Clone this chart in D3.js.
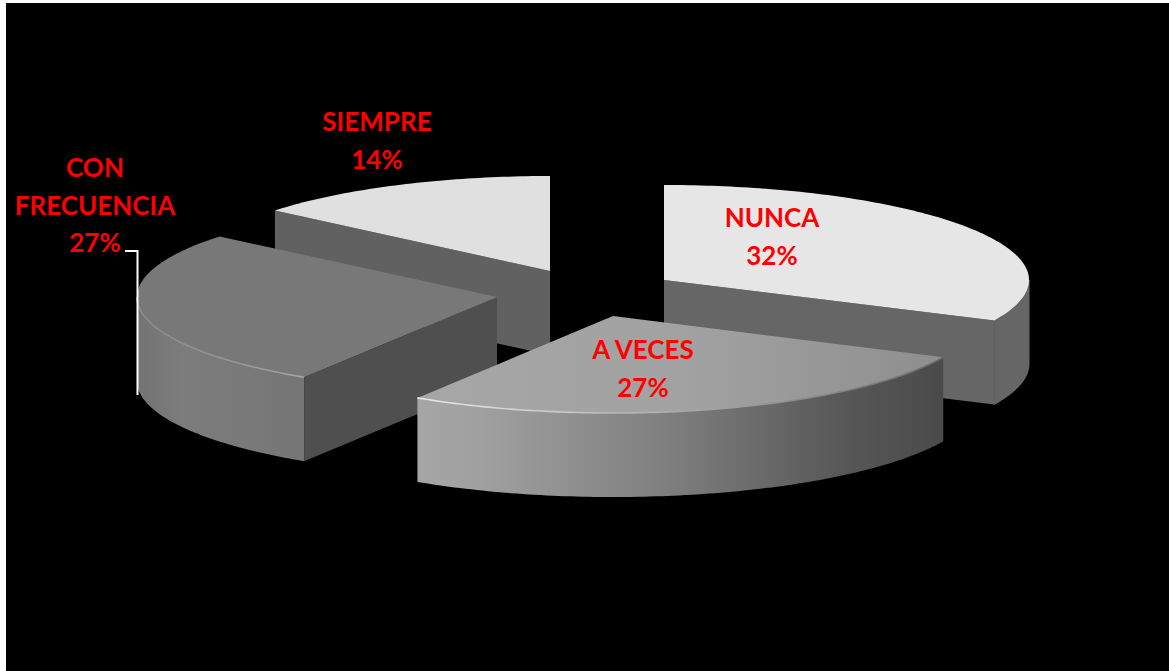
<!DOCTYPE html>
<html><head><meta charset="utf-8">
<script src="https://cdn.jsdelivr.net/npm/d3@7"></script>
<style>html,body{margin:0;padding:0;background:#fff;overflow:hidden}svg{display:block}</style>
</head><body><svg id="c" width="1169" height="671"></svg>
<script>
const categories = ["NUNCA", "A VECES", "CON FRECUENCIA", "SIEMPRE"];
const percents = [32, 27, 27, 14];
const labelLines = [["NUNCA"], ["A VECES"], ["CON", "FRECUENCIA"], ["SIEMPRE"]];

// Geometry of each exploded wedge (drawn pixel space), index-aligned with categories.
// cut: which radial cut of the wedge faces the viewer.
const geom = [
  {cx:664, cy:280, rx:365, ry:95, depth:84, cut:"end",   top:"#e6e6e6", wall:"#666666", face:"#666666", lx:772, ly:227},
  {cx:613, cy:316, rx:365, ry:97, depth:84, cut:null,    top:"url(#gTopV)", wall:"url(#gWallV)", rim:"url(#gRimV)", lx:643, ly:359},
  {cx:497, cy:297, rx:360, ry:95, depth:84, cut:"start", top:"#787878", wall:"url(#gWallC)", face:"#4f4f4f", rim:"url(#gRimC)", lx:95, ly:177},
  {cx:550, cy:271, rx:357, ry:95, depth:84, cut:"start", top:"#e0e0e0", wall:"#606060", face:"#616161", lx:377, ly:131}
];
const drawOrder = [3, 0, 2, 1];

const svg = d3.select("#c");
svg.append("rect").attr("x",6).attr("y",3).attr("width",1163).attr("height",668).attr("fill","#000");

const defs = svg.append("defs");
function grad(id, x1, x2, stops){
  const g = defs.append("linearGradient").attr("id",id).attr("gradientUnits","userSpaceOnUse")
    .attr("x1",x1).attr("x2",x2).attr("y1",0).attr("y2",0);
  stops.forEach(s => g.append("stop").attr("offset",s[0]).attr("stop-color",s[1]));
}
grad("gWallV",417,945,[[0,"#a6a6a6"],[0.12,"#a0a0a0"],[0.5,"#7c7c7c"],[0.8,"#585858"],[1,"#4a4a4a"]]);
grad("gTopV",417,945,[[0,"#a6a6a6"],[0.5,"#a2a2a2"],[1,"#8e8e8e"]]);
grad("gRimV",417,945,[[0,"#e8e8e8"],[0.2,"#d0d0d0"],[0.45,"#b0b0b0"],[0.75,"#8a8a8a"],[1,"#6a6a6a"]]);
grad("gWallC",135,302,[[0,"#5a5a5a"],[0.025,"#747474"],[0.3,"#7c7c7c"],[1,"#767676"]]);
grad("gRimC",135,302,[[0,"#8a8a8a"],[0.5,"#959595"],[1,"#a4a4a4"]]);

const pie = d3.pie().sort(null).value(d => d).startAngle(0).endAngle(2*Math.PI);
const arcs = pie(percents);
const line = d3.line();
const pt = (g, a, dy=0) => [g.cx + g.rx*Math.sin(a), g.cy - g.ry*Math.cos(a) + dy];
const rimPts = (g, a0, a1, dy=0) => {
  const n = Math.max(2, Math.ceil((a1-a0)*60));
  return d3.range(n+1).map(i => pt(g, a0+(a1-a0)*i/n, dy));
};

drawOrder.forEach(i => {
  const g = geom[i], a = arcs[i], a0 = a.startAngle, a1 = a.endAngle;
  const G = svg.append("g").attr("class","slice").attr("data-cat",categories[i]);
  const apex = [g.cx, g.cy], apexB = [g.cx, g.cy+g.depth];

  // curved outer wall, front half of the ellipse only
  const w0 = Math.max(a0, Math.PI/2), w1 = Math.min(a1, 3*Math.PI/2);
  if (w1 > w0) {
    const upper = rimPts(g,w0,w1), lower = rimPts(g,w0,w1,g.depth).reverse();
    const wallPath = G.append("path").attr("fill",g.wall).attr("d", line(upper.concat(lower))+"Z");
    if (g.wall === g.face) wallPath.attr("stroke",g.wall).attr("stroke-width",1);
  }

  // flat radial cut that looks toward the viewer
  if (g.cut) {
    const c = g.cut === "start" ? a0 : a1;
    G.append("path").attr("fill",g.face)
      .attr("d", line([apex, pt(g,c), pt(g,c,g.depth), apexB])+"Z");
  }

  // top surface
  G.append("path").attr("fill",g.top)
    .attr("d", line([apex].concat(rimPts(g,a0,a1)))+"Z");

  // soft highlight on the front rim
  if (g.rim && w1 > w0) {
    G.append("path").attr("fill","none").attr("stroke",g.rim).attr("stroke-width",1.6)
      .attr("d", line(rimPts(g,w0,w1)));
  }
});

// leader line for CON FRECUENCIA
svg.append("path").attr("fill","none").attr("stroke","#fff").attr("stroke-width",2)
  .attr("d", line([[125,251],[137.5,251],[137.5,395]]));

// labels
const lineH = 37.5;
percents.forEach((p,i) => {
  const g = geom[i];
  const t = svg.append("text").attr("text-anchor","middle")
    .attr("font-family","Lato, 'Noto Sans', sans-serif").attr("font-weight",700)
    .attr("font-size",26).attr("fill","#ff0000");
  labelLines[i].concat([p+"%"]).forEach((s,k) => {
    t.append("tspan").attr("x",g.lx).attr("y",g.ly+k*lineH).text(s);
  });
});
</script></body></html>
